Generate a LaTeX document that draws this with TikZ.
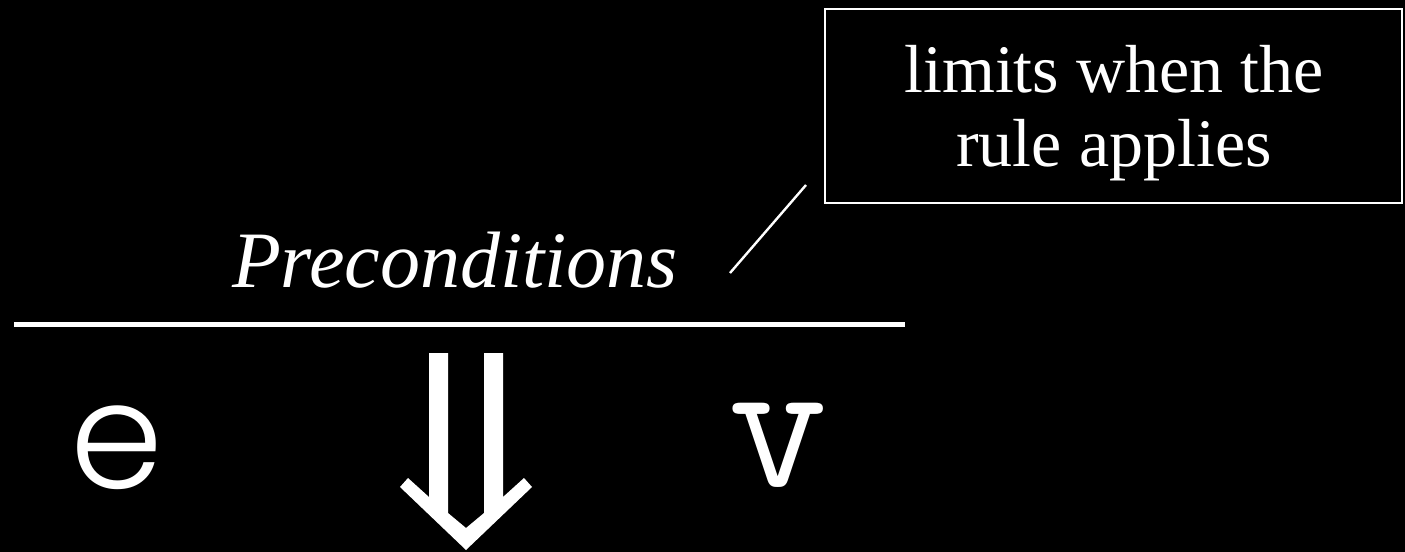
\documentclass[tikz,border=0pt]{standalone}
\usepackage{fontspec}
\setmainfont{Liberation Serif}
\newfontfamily\letrafont{Poppins Light}
\newfontfamily\monofont{Latin Modern Mono}
\usetikzlibrary{positioning}
\tikzset{
	nota/.style={
		draw=white,
		line width=1.5pt,
		minimum width=432.75pt,
		minimum height=145.5pt,
		inner sep=0pt
	},
	notaTexto/.style={
		text=white,
		anchor=base,
		align=center,
		inner sep=0pt,
		font=\fontsize{51}{56}\selectfont
	},
	premisa/.style={
		text=white,
		anchor=base,
		inner sep=0pt,
		font=\fontsize{60}{66}\selectfont\itshape
	},
	expresion/.style={
		text=white,
		anchor=base,
		inner sep=0pt,
		font=\letrafont\fontsize{112}{120}\selectfont
	},
	valor/.style={
		text=white,
		anchor=base,
		inner sep=0pt,
		font=\monofont\fontsize{145}{150}\selectfont
	},
	regla/.style={
		white,
		line width=3.75pt
	},
	enlace/.style={
		white,
		line width=1.8pt
	}
}
\begin{document}
\begin{tikzpicture}[x=0.75pt, y=-0.75pt]
	\fill[black] (0,0) rectangle (1405,552);
	\useasboundingbox (0,0) rectangle (1405,552);
	% premisa y regla
	\node[premisa] (pre) at (455,287) {Preconditions};
	\draw[regla] (14,324.5) -- (905,324.5);
	% nota
	\node[nota] (limites) at (1113.5,106) {};
	\node[notaTexto] (limitesTxt) at (1114,167) {limits when the\\rule applies};
	\coordinate (enlaceIni) at (730,273);
	\coordinate (enlaceFin) at (806,185);
	\draw[enlace] (enlaceIni) -- (enlaceFin);
	% conclusion
	\node[expresion] (e) at (117,488) {e};
	\node[valor] (v) at (778,486) {v};
	\fill[white] (429,353) -- (448,353) -- (448,513) -- (466,528) -- (484,513)
		-- (484,353) -- (503,353) -- (503,497) -- (524,478) -- (532,487)
		-- (466,550) -- (400,487) -- (408,478) -- (429,497) -- cycle;
\end{tikzpicture}
\end{document}
